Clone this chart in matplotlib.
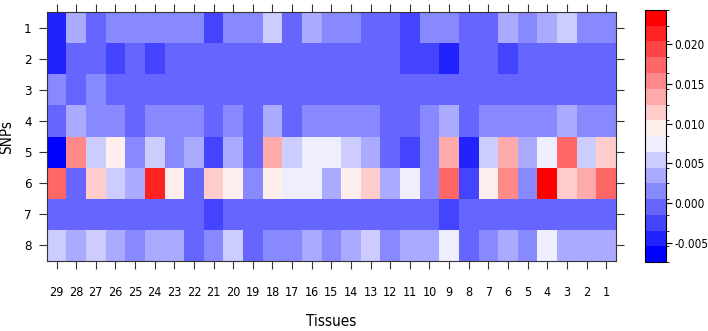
import numpy as np
import matplotlib
matplotlib.use("Agg")
import matplotlib.pyplot as plt
from matplotlib import font_manager
from matplotlib.colors import LinearSegmentedColormap, ListedColormap, BoundaryNorm

# look for a narrow face, the original uses a condensed sans
narrow = None
for f in font_manager.fontManager.ttflist:
    if 'Narrow' in f.name or f.stretch in ('condensed', 'semi-condensed') or 'Condensed' in f.fname:
        if f.style == 'normal' and f.weight in (400, 'normal', 'regular'):
            narrow = f.fname
            break
if narrow:
    font_manager.fontManager.addfont(narrow)
    fam = font_manager.FontProperties(fname=narrow).get_name()
    plt.rcParams['font.family'] = [fam, 'DejaVu Sans']
    plt.rcParams['font.stretch'] = 'condensed'
else:
    plt.rcParams['font.family'] = ['Liberation Sans', 'DejaVu Sans']

# tissues in display order (left -> right)
tissues = list(range(29, 0, -1))
snps = [1, 2, 3, 4, 5, 6, 7, 8]

# values per SNP, columns in the same order as tissues
snp1 = [-0.004, 0.004, 0.000, 0.002, 0.002, 0.002, 0.002, 0.002, -0.002, 0.002, 0.002, 0.006, 0.000, 0.004, 0.002,
        0.002, 0.000, 0.000, -0.002, 0.002, 0.002, 0.000, 0.000, 0.004, 0.002, 0.004, 0.006, 0.002, 0.002]
snp2 = [-0.004, 0.000, 0.000, -0.002, 0.000, -0.002, 0.000, 0.000, 0.000, 0.000, 0.000, 0.000, 0.000, 0.000, 0.000,
        0.000, 0.000, 0.000, -0.002, -0.002, -0.004, 0.000, 0.000, -0.002, 0.000, 0.000, 0.000, 0.000, 0.000]
snp3 = [0.002, 0.000, 0.002, 0.000, 0.000, 0.000, 0.000, 0.000, 0.000, 0.000, 0.000, 0.000, 0.000, 0.000, 0.000,
        0.000, 0.000, 0.000, 0.000, 0.000, 0.000, 0.000, 0.000, 0.000, 0.000, 0.000, 0.000, 0.000, 0.000]
snp4 = [0.000, 0.004, 0.002, 0.002, 0.000, 0.002, 0.002, 0.002, 0.000, 0.002, 0.000, 0.004, 0.000, 0.002, 0.002,
        0.002, 0.002, 0.000, 0.000, 0.002, 0.004, 0.000, 0.002, 0.002, 0.002, 0.002, 0.004, 0.002, 0.002]
snp5 = [-0.0072, 0.016, 0.006, 0.010, 0.002, 0.006, 0.002, 0.004, -0.002, 0.004, 0.000, 0.014, 0.006, 0.008, 0.008,
        0.006, 0.004, 0.000, -0.002, 0.002, 0.014, -0.004, 0.006, 0.014, 0.004, 0.008, 0.018, 0.006, 0.012]
snp6 = [0.018, 0.000, 0.012, 0.006, 0.004, 0.022, 0.010, 0.000, 0.012, 0.010, 0.002, 0.010, 0.008, 0.008, 0.004,
        0.010, 0.012, 0.004, 0.008, 0.002, 0.018, -0.002, 0.010, 0.016, 0.002, 0.0241, 0.012, 0.014, 0.018]
snp7 = [0.000, 0.000, 0.000, 0.000, 0.000, 0.000, 0.000, 0.000, -0.002, 0.000, 0.000, 0.000, 0.000, 0.000, 0.000,
        0.000, 0.000, 0.000, 0.000, 0.000, -0.002, 0.000, 0.000, 0.000, 0.000, 0.000, 0.000, 0.000, 0.000]
snp8 = [0.006, 0.004, 0.006, 0.004, 0.002, 0.004, 0.004, 0.000, 0.002, 0.006, 0.000, 0.002, 0.002, 0.004, 0.002,
        0.004, 0.006, 0.002, 0.004, 0.004, 0.008, 0.000, 0.002, 0.004, 0.002, 0.008, 0.004, 0.004, 0.004]

levels = np.linspace(-0.0074, 0.0243, 17)
cbar_ticks = [-0.005, 0.000, 0.005, 0.010, 0.015, 0.020]

data = np.array([snp1, snp2, snp3, snp4, snp5, snp6, snp7, snp8])

base = LinearSegmentedColormap.from_list('bwr16', ['#0000FF', '#FFFFFF', '#FF0000'])
cmap = ListedColormap(base(np.linspace(0, 1, 16)))
norm = BoundaryNorm(levels, cmap.N)

fig = plt.figure(figsize=(7.08, 3.31), dpi=100)
ax = fig.add_axes([0.066, 0.2115, 0.804, 0.752])

x = np.arange(len(tissues) + 1)
y = np.arange(len(snps) + 1)
mesh = ax.pcolormesh(x, y, data, cmap=cmap, norm=norm)
ax.set_xlim(0, len(tissues))
ax.set_ylim(len(snps), 0)

ax.set_xticks(np.arange(len(tissues)) + 0.5)
ax.set_xticklabels([str(t) for t in tissues], fontsize=9)
ax.set_yticks(np.arange(len(snps)) + 0.5)
ax.set_yticklabels([str(s) for s in snps], fontsize=9.5)
ax.tick_params(direction='out', length=6, width=0.8, color='#333333',
               top=True, right=True, labeltop=False, labelright=False)
ax.tick_params(axis='x', pad=12)
ax.tick_params(axis='y', pad=5)
for sp in ax.spines.values():
    sp.set_linewidth(0.8)
    sp.set_color('#333333')

ax.set_xlabel('Tissues', fontsize=11, labelpad=11)
ax.set_ylabel('SNPs', fontsize=11)
ax.yaxis.set_label_coords(-0.058, 0.5)

cax = fig.add_axes([0.911, 0.208, 0.030, 0.762])
cb = fig.colorbar(mesh, cax=cax, boundaries=levels, ticks=cbar_ticks)
cb.ax.set_yticklabels(['%.3f' % t for t in cbar_ticks], fontsize=8.5)
cb.ax.tick_params(direction='out', length=4, width=0.8, pad=2)
cb.outline.set_linewidth(0.8)

fig.savefig('out.png', dpi=100)
